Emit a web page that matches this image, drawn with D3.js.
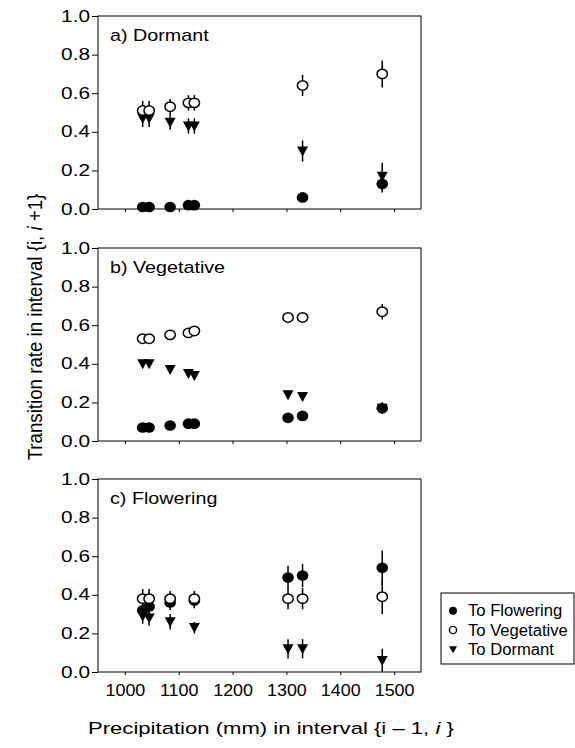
<!DOCTYPE html>
<html>
<head>
<meta charset="utf-8">
<script src="https://cdn.jsdelivr.net/npm/d3@7"></script>
<style>
  body { margin: 0; background: #fff; }
  svg text { font-family: "Liberation Sans", Arial, sans-serif; fill: #000; }
  .axis path, .axis line { stroke: #000; stroke-width: 1; }
</style>
</head>
<body>
<svg width="575" height="748"></svg>
<script>
// precipitation (mm) for each interval
const precip = [1033, 1045, 1084, 1118, 1129, 1303, 1330, 1478];

// a) Dormant
const dormFlow = [0.01, 0.01, 0.01, 0.02, 0.02, null, 0.06, 0.13];
const dormFlowErr = [0.005, 0.005, 0.005, 0.01, 0.01, null, 0.015, 0.045];
const dormVeg = [0.51, 0.51, 0.53, 0.55, 0.55, null, 0.64, 0.70];
const dormVegErr = [0.05, 0.05, 0.04, 0.04, 0.04, null, 0.055, 0.07];
const dormDorm = [0.47, 0.47, 0.45, 0.43, 0.43, null, 0.30, 0.17];
const dormDormErr = [0.045, 0.045, 0.04, 0.04, 0.04, null, 0.055, 0.07];

// b) Vegetative
const vegFlow = [0.07, 0.07, 0.08, 0.09, 0.09, 0.12, 0.13, 0.17];
const vegFlowErr = [0.01, 0.01, 0.01, 0.01, 0.01, 0.015, 0.015, 0.03];
const vegVeg = [0.53, 0.53, 0.55, 0.56, 0.57, 0.64, 0.64, 0.67];
const vegVegErr = [0.01, 0.01, 0.01, 0.01, 0.01, 0.015, 0.015, 0.04];
const vegDorm = [0.40, 0.40, 0.37, 0.35, 0.34, 0.24, 0.23, 0.17];
const vegDormErr = [0.015, 0.015, 0.015, 0.015, 0.015, 0.02, 0.02, 0.03];

// c) Flowering
const flowFlow = [0.32, 0.34, 0.36, null, 0.37, 0.49, 0.50, 0.54];
const flowFlowErr = [0.05, 0.05, 0.04, null, 0.04, 0.06, 0.06, 0.09];
const flowVeg = [0.38, 0.38, 0.38, null, 0.38, 0.38, 0.38, 0.39];
const flowVegErr = [0.05, 0.05, 0.04, null, 0.04, 0.055, 0.055, 0.09];
const flowDorm = [0.29, 0.28, 0.26, null, 0.23, 0.12, 0.12, 0.06];
const flowDormErr = [0.04, 0.04, 0.04, null, 0.03, 0.05, 0.05, 0.06];

const panelTitles = ['a) Dormant', 'b) Vegetative', 'c) Flowering'];
const legendLabels = ['To Flowering', 'To Vegetative', 'To Dormant'];
const xTicks = [1000, 1100, 1200, 1300, 1400, 1500];
const yTicks = [0, 0.2, 0.4, 0.6, 0.8, 1.0];

const panels = [
  { title: panelTitles[0], flow: [dormFlow, dormFlowErr], veg: [dormVeg, dormVegErr], dorm: [dormDorm, dormDormErr] },
  { title: panelTitles[1], flow: [vegFlow, vegFlowErr], veg: [vegVeg, vegVegErr], dorm: [vegDorm, vegDormErr] },
  { title: panelTitles[2], flow: [flowFlow, flowFlowErr], veg: [flowVeg, flowVegErr], dorm: [flowDorm, flowDormErr] }
];

const svg = d3.select('svg');
const left = 98, right = 421;
const panelTops = [16, 248, 479];
const panelH = 193;

const x = d3.scaleLinear().domain([950, 1550]).range([left, right]);

const triPath = 'M-5.5,-4.5L5.5,-4.5L0,5.5Z';

// turn two arrays into point records, skipping the missing years
const toPoints = (vals, errs) => precip
  .map((p, i) => ({ p, v: vals[i], e: errs[i] }))
  .filter(d => d.v != null);

panels.forEach((panel, k) => {
  const top = panelTops[k];
  const y = d3.scaleLinear().domain([0, 1]).range([top + panelH, top]);
  const g = svg.append('g');

  // y axis - the original text is wide, so stretch it a bit
  g.append('g')
    .attr('class', 'axis')
    .attr('transform', `translate(${left},0)`)
    .call(d3.axisLeft(y).tickValues(yTicks).tickFormat(d3.format('.1f')).tickSize(6).tickSizeOuter(0).tickPadding(2))
    .call(a => a.select('.domain').remove())
    .selectAll('text')
    .attr('x', 0)
    .attr('transform', 'translate(-8,0) scale(1.3,1)')
    .style('font-size', '16px');

  // x axis (labels only on the bottom panel)
  const xAxis = d3.axisBottom(x).tickValues(xTicks).tickSize(3).tickSizeOuter(0).tickPadding(10)
    .tickFormat(k < 2 ? '' : d3.format('d'));
  g.append('g')
    .attr('class', 'axis')
    .attr('transform', `translate(0,${top + panelH})`)
    .call(xAxis)
    .call(a => a.select('.domain').remove())
    .selectAll('text')
    .attr('transform', 'scale(1.12,1)')
    .style('font-size', '16px');

  // frame
  g.append('rect')
    .attr('x', left).attr('y', top)
    .attr('width', right - left).attr('height', panelH)
    .attr('fill', 'none').attr('stroke', '#000').attr('stroke-width', 1);

  g.append('text')
    .attr('transform', `translate(110,${top + 25}) scale(1.16,1)`)
    .style('font-size', '17px')
    .text(panel.title);

  const flowPts = toPoints(...panel.flow);
  const vegPts = toPoints(...panel.veg);
  const dormPts = toPoints(...panel.dorm);

  // error bars
  [flowPts, vegPts, dormPts].forEach(pts => {
    g.selectAll(null).data(pts).enter().append('line')
      .attr('x1', d => x(d.p)).attr('x2', d => x(d.p))
      .attr('y1', d => y(d.v - d.e)).attr('y2', d => y(d.v + d.e))
      .attr('stroke', '#000').attr('stroke-width', 1.5);
  });

  // filled first, then triangles, open circles on top
  g.selectAll(null).data(flowPts).enter().append('ellipse')
    .attr('cx', d => x(d.p)).attr('cy', d => y(d.v))
    .attr('rx', 5.8).attr('ry', 5.3)
    .attr('fill', '#000');

  g.selectAll(null).data(dormPts).enter().append('path')
    .attr('d', triPath)
    .attr('transform', d => `translate(${x(d.p)},${y(d.v)})`)
    .attr('fill', '#000');

  g.selectAll(null).data(vegPts).enter().append('ellipse')
    .attr('cx', d => x(d.p)).attr('cy', d => y(d.v))
    .attr('rx', 5.2).attr('ry', 4.7)
    .attr('fill', '#fff').attr('stroke', '#000').attr('stroke-width', 1.5);
});

// axis titles
const yTitle = svg.append('text')
  .attr('transform', 'translate(42,327) rotate(-90) scale(1.1,1.15)')
  .attr('text-anchor', 'middle')
  .style('font-size', '17px');
yTitle.append('tspan').text('Transition rate in interval {i, ');
yTitle.append('tspan').style('font-style', 'italic').text('i');
yTitle.append('tspan').text(' +1}');

const xTitle = svg.append('text')
  .attr('transform', 'translate(88,734) scale(1.3,1)')
  .style('font-size', '17px');
xTitle.append('tspan').text('Precipitation (mm) in interval {i \u2013 1, ');
xTitle.append('tspan').style('font-style', 'italic').text('i');
xTitle.append('tspan').text(' }');

// legend
const legend = svg.append('g').attr('transform', 'translate(441,593)');
legend.append('rect')
  .attr('width', 133).attr('height', 71)
  .attr('fill', '#fff').attr('stroke', '#000').attr('stroke-width', 1);

const legendY = d3.scaleBand().domain(legendLabels).range([8, 66]);
const legendRows = legend.selectAll('g.row').data(legendLabels).enter().append('g')
  .attr('class', 'row')
  .attr('transform', d => `translate(0,${legendY(d) + legendY.bandwidth() / 2})`);

legendRows.each(function (d, i) {
  const row = d3.select(this);
  if (i === 0) row.append('circle').attr('cx', 12).attr('r', 4).attr('fill', '#000');
  if (i === 1) row.append('circle').attr('cx', 12).attr('r', 3.6).attr('fill', '#fff').attr('stroke', '#000').attr('stroke-width', 1.4);
  if (i === 2) row.append('path').attr('d', 'M-4,-3L4,-3L0,4Z').attr('transform', 'translate(12,0)').attr('fill', '#000');
  row.append('text')
    .attr('transform', 'translate(27,0) scale(1.04,1)')
    .attr('dy', '0.36em')
    .style('font-size', '16px')
    .text(d);
});
</script>
</body>
</html>
